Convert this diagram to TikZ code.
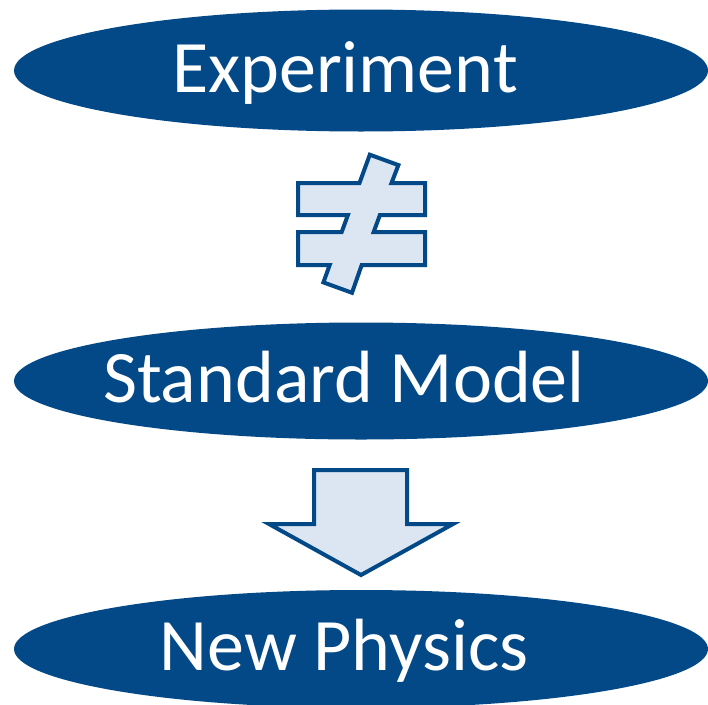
\documentclass[tikz,border=0pt]{standalone}
\usepackage{fontspec}
\setmainfont{Carlito}
\usetikzlibrary{shapes.geometric}
\definecolor{navy}{RGB}{3,73,135}
\definecolor{paleblue}{RGB}{220,230,242}
\tikzset{
  oval/.style={ellipse, fill=navy, draw=none, inner sep=0pt, minimum width=694pt},
  label/.style={text=white, anchor=base, inner sep=0pt, font=\fontsize{74}{88}\selectfont},
  symbolshape/.style={fill=paleblue, draw=navy, line width=4pt, line join=miter}
}
\begin{document}
\begin{tikzpicture}[x=1pt,y=-1pt]
\useasboundingbox (0,0) rectangle (708,704);
% ellipses
\node[oval, minimum height=122pt] (exp) at (361,70.5) {};
\node[oval, minimum height=117pt] (sm) at (361,381) {};
\node[oval, minimum height=118pt] (np) at (361,649) {};
% texts
\node[label] (texp) at (345,92) {Experiment};
\node[label] (tsm) at (344,402.7) {Standard Model};
\node[label] (tnp) at (344,670.7) {New Physics};
% not-equal sign
\draw[symbolshape] (369.8,154.7) -- (398.4,165.1) -- (391.5,183) -- (425,183) -- (425,215)
  -- (379.9,215) -- (373.7,232) -- (425,232) -- (425,265) -- (361.7,265) -- (352,292.8)
  -- (323.4,282.4) -- (329.7,265) -- (298,265) -- (298,232) -- (341.7,232) -- (347.9,215)
  -- (298,215) -- (298,183) -- (359.5,183) -- cycle;
% down arrow
\draw[symbolshape] (314,470) -- (407,470) -- (407,524) -- (453,524) -- (361,575)
  -- (269,524) -- (314,524) -- cycle;
\end{tikzpicture}
\end{document}
